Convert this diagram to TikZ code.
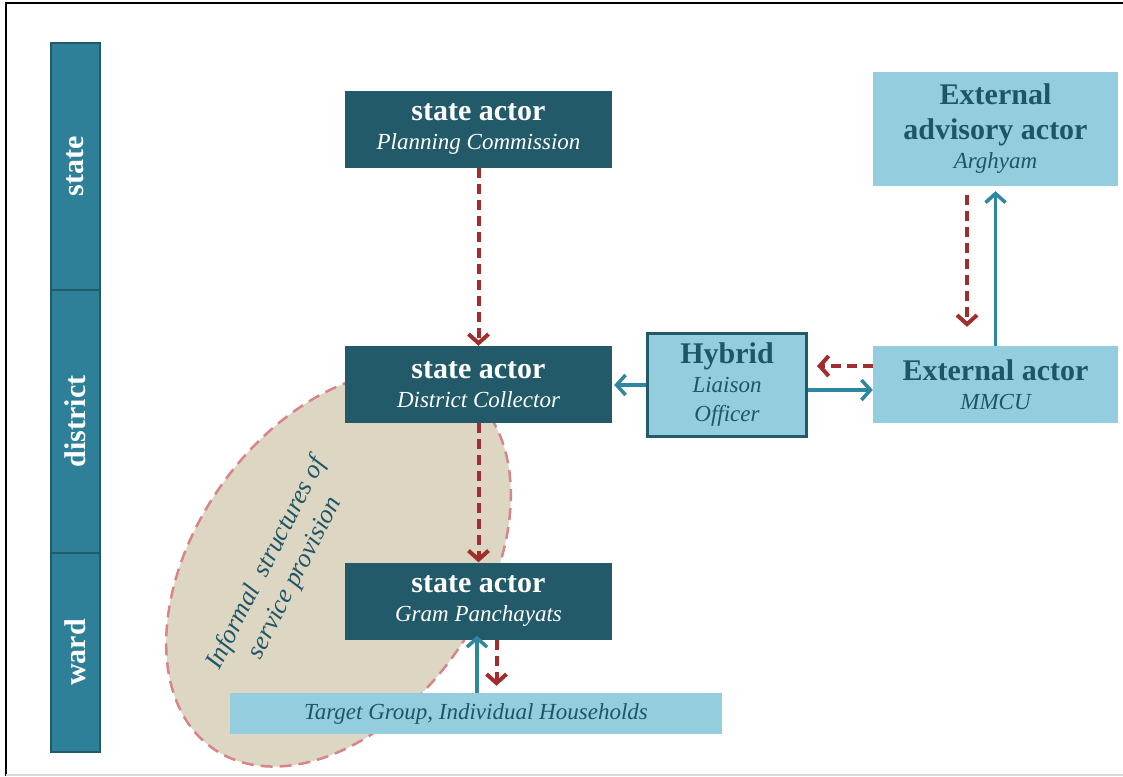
\documentclass[tikz,border=0pt]{standalone}
\usepackage{fontspec}
\setmainfont{Liberation Serif}
\usetikzlibrary{arrows.meta, positioning}
\definecolor{DeepTeal}{HTML}{225A69}
\definecolor{BarTeal}{HTML}{2E7F98}
\definecolor{SkyBlue}{HTML}{94CDDE}
\definecolor{InkTeal}{HTML}{1E5667}
\definecolor{FlowTeal}{HTML}{2E86A0}
\definecolor{BrickRed}{HTML}{A12D2D}
\definecolor{Sand}{HTML}{DCD6C3}
\definecolor{DustyPink}{HTML}{D98489}
\newcommand{\bigfont}{\fontsize{30}{35}\selectfont\upshape\bfseries}
\newcommand{\subfont}{\fontsize{23}{29}\selectfont\itshape}

\begin{document}
\begin{tikzpicture}[x=1pt, y=-1pt,
    gov/.style={fill=DeepTeal, text=white, minimum width=267pt,
                minimum height=77pt, inner sep=0pt, align=center, font=\subfont},
    extern/.style={fill=SkyBlue, text=InkTeal, minimum width=245pt,
                   inner sep=0pt, align=center, font=\subfont},
    level/.style={fill=BarTeal, draw=DeepTeal, line width=1.2pt, rotate=90,
                  minimum height=49pt, inner sep=0pt, text=white, font=\bigfont},
    flow/.style={-{Straight Barb[length=9pt, width=20pt]}, line width=3.5pt, FlowTeal},
    back/.style={-{Straight Barb[length=9pt, width=20pt]}, line width=4pt, BrickRed,
                 dash pattern=on 10pt off 6pt},
    informal/.style={text=InkTeal, align=center,
                     font=\fontsize{26}{32}\selectfont\itshape}
  ]
    \useasboundingbox (0,0) rectangle (1123,776);
    % frame
    \draw[line width=2.5pt] (6,776) -- (6,3) -- (1123,3);
    \draw[black!15, line width=1.5pt] (6,775) -- (1123,775);

    % Level bar
    \node[level, minimum width=247pt] (lstate)    at (75.5,166.5) {state};
    \node[level, minimum width=263pt] (ldistrict) at (75.5,421.5) {district};
    \node[level, minimum width=199pt] (lward)     at (75.5,652.5) {ward};

    % Informal structures (behind everything)
    \draw[fill=Sand, draw=DustyPink, line width=2.5pt, dash pattern=on 12pt off 7pt,
          rotate around={55:(338.5,569)}] (338.5,569) ellipse (219 and 144);
    \node[informal, rotate=63] (inf) at (281,571) {Informal\ \ structures of\\service provision};

    % State actors
    \node[gov] (pc) at (478.5,129.5) {{\bigfont state actor}\\Planning Commission};
    \node[gov] (dc) at (478.5,384.5) {{\bigfont state actor}\\District Collector};
    \node[gov] (gp) at (478.5,601)   {{\bigfont state actor}\\Gram Panchayats};

    % Hybrid and external actors
    \node[extern, draw=DeepTeal, line width=3pt, minimum width=159pt,
          minimum height=103pt] (hyb) at (727,385) {{\bigfont Hybrid}\\Liaison\\Officer};
    \node[extern, minimum height=77pt]  (ext) at (995.5,384.5) {{\bigfont External actor}\\MMCU};
    \node[extern, minimum height=114pt] (adv) at (995.5,129)
          {{\bigfont External}\\[6pt]{\bigfont advisory actor}\\Arghyam};

    % Target group
    \node[extern, minimum width=492pt, minimum height=41pt] (tgt) at (476,713.5)
          {Target Group, Individual Households};

    % Arrows: state hierarchy
    \draw[back] (pc.south) -- (dc.north);
    \draw[back] (dc.south) -- (gp.north);
    \draw[flow, shorten >=-4pt] ([xshift=-1.5pt]gp.south |- tgt.north) -- ([xshift=-1.5pt]gp.south);
    \draw[back, shorten >=7pt] ([xshift=18pt]gp.south) -- ([xshift=18pt]gp.south |- tgt.north);

    % Arrows: hybrid and external
    \draw[flow, shorten >=2pt] (hyb.west) -- (hyb.west -| dc.east);
    \draw[flow] ([yshift=-5pt]hyb.east) -- ([yshift=-5pt]hyb.east -| ext.west);
    \draw[back, shorten >=9pt] ([yshift=18.5pt]ext.west) -- ([yshift=18.5pt]ext.west -| hyb.east);
    \draw[back, shorten <=9pt, shorten >=19pt] ([xshift=-28.5pt]adv.south) -- ([xshift=-28.5pt]adv.south |- ext.north);
    \draw[flow, shorten >=5pt] (ext.north) -- (adv.south);
  \end{tikzpicture}
\end{document}
